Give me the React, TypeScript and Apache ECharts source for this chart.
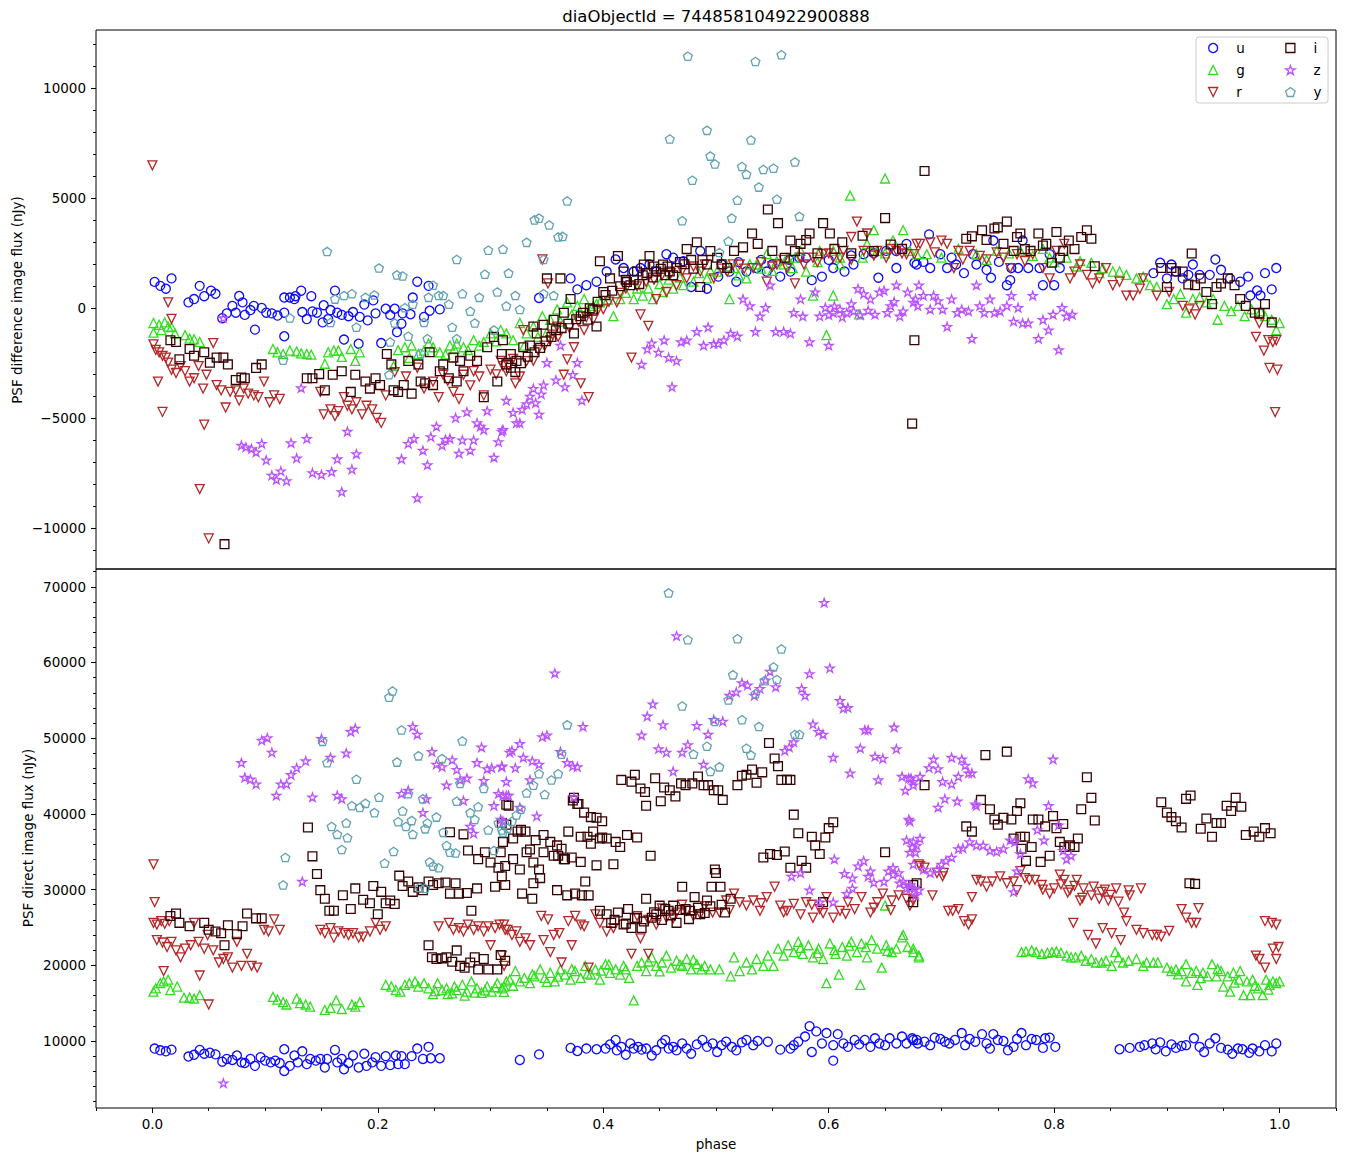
import React, { useEffect, useRef } from "react";
import * as echarts from "echarts";

// ---------- tick values ----------
const xMajor = [0, 0.2, 0.4, 0.6, 0.8, 1.0];
const xMinor = [-0.05, 0.05, 0.1, 0.15, 0.25, 0.3, 0.35, 0.45, 0.5, 0.55, 0.65, 0.7, 0.75, 0.85, 0.9, 0.95, 1.05];
const yDiffMajor = [-10000, -5000, 0, 5000, 10000];
const yDiffMinor = [-11000, -9000, -8000, -7000, -6000, -4000, -3000, -2000, -1000, 1000, 2000, 3000, 4000, 6000, 7000, 8000, 9000, 11000, 12000];
const yDirMajor = [10000, 20000, 30000, 40000, 50000, 60000, 70000];
const yDirMinor = [2000, 4000, 6000, 8000, 12000, 14000, 16000, 18000, 22000, 24000, 26000, 28000, 32000, 34000, 36000, 38000, 42000, 44000, 46000, 48000, 52000, 54000, 56000, 58000, 62000, 64000, 66000, 68000, 72000];

const bands = ["u", "g", "r", "i", "z", "y"];
const bandColors = ["#0a0aff", "#31DE1F", "#B52626", "#370201", "#BA52FF", "#61A2B3"];

// ---------- PSF difference image flux: [phase, flux, phase, flux, ...] ----------
const uDiff = [
  0.002,1200, 0.007,1020, 0.012,890, 0.017,1360, 0.032,270, 0.037,420, 0.042,1020, 0.046,550, 0.052,800, 0.056,660,
  0.062,-450, 0.066,-230, 0.071,110, 0.074,-200, 0.077,560, 0.080,270, 0.082,-300, 0.087,-80, 0.091,-970, 0.090,110,
  0.097,20, 0.101,-200, 0.106,-230, 0.111,-330, 0.117,490, 0.117,-200, 0.117,-1270, 0.122,490, 0.126,420, 0.127,550,
  0.132,800, 0.133,-170, 0.137,-490, 0.141,550, 0.142,-140, 0.146,-200, 0.151,-640, 0.152,140, 0.156,-490, 0.158,-80,
  0.162,800, 0.164,-200, 0.168,-300, 0.170,-1420, 0.174,-360, 0.178,-170, 0.183,-1610, 0.184,-390, 0.188,170, 0.191,-550,
  0.196,360, 0.198,-230, 0.203,-1580, 0.207,-20, 0.211,-300, 0.215,-20, 0.217,-1080, 0.221,-700, 0.222,-230, 0.229,-270,
  0.231,490, 0.235,1210, 0.241,-390, 0.245,1020, 0.246,-110, 0.255,-50,
  0.343,470, 0.371,1360, 0.377,860, 0.385,1050, 0.394,1210, 0.403,1670, 0.411,2220, 0.418,1830, 0.427,1670, 0.433,1830,
  0.441,1990, 0.447,1670, 0.456,2460, 0.462,2300, 0.471,2140, 0.478,970, 0.486,2610, 0.492,890, 0.502,1440, 0.512,1670,
  0.518,1210, 0.527,1670, 0.536,1830, 0.545,1670, 0.557,1440, 0.566,1670, 0.574,2300, 0.585,1280, 0.594,1440, 0.604,1830,
  0.614,1670, 0.622,1990, 0.631,2460, 0.644,1390, 0.651,2610, 0.660,1830, 0.669,2930, 0.676,2070,
  0.505,2000, 0.520,2100, 0.540,2200, 0.550,2000, 0.565,2200, 0.580,2300, 0.600,2200, 0.620,2400, 0.640,2500, 0.660,2600,
  0.678,1990, 0.684,2110, 0.689,3360, 0.690,1830, 0.699,2460, 0.705,1830, 0.709,2300, 0.713,1990, 0.720,1600, 0.728,2460,
  0.731,1990, 0.740,1750, 0.744,1390, 0.746,3080, 0.751,2110, 0.758,1050, 0.761,1280, 0.762,1830, 0.768,1830, 0.772,3080,
  0.777,1830, 0.787,1830, 0.790,1050, 0.796,2460, 0.800,1050, 0.805,1830, 0.888,1600, 0.894,2070, 0.900,1360, 0.904,1990,
  0.908,1670, 0.914,1360, 0.919,1520, 0.923,1990, 0.929,1520, 0.938,1520, 0.943,2220, 0.948,1750, 0.956,1360, 0.965,1210,
  0.972,1440, 0.974,580, 0.980,810, 0.983,580, 0.987,1600, 0.993,860, 0.997,1830,
];
const gDiff = [
  0.001,-670, 0.001,-1110, 0.006,-750, 0.008,-990, 0.011,-640, 0.014,-830, 0.017,-860, 0.020,-1140, 0.029,-1220, 0.033,-1380,
  0.037,-1410, 0.042,-1530, 0.107,-1850, 0.111,-2000, 0.116,-2080, 0.122,-1920, 0.128,-1960, 0.132,-2050, 0.137,-2080, 0.141,-2110,
  0.153,-2520, 0.156,-2000, 0.161,-1920, 0.165,-1920, 0.168,-2210, 0.176,-1850, 0.180,-2390, 0.184,-2000, 0.214,-2630, 0.224,-1770,
  0.230,-1690, 0.236,-2080, 0.241,-1920, 0.249,-1770, 0.255,-2000, 0.264,-1690, 0.270,-1610, 0.276,-1770, 0.285,-1450, 0.294,-1530,
  0.300,-1140, 0.309,-990, 0.314,-1140, 0.218,-1900, 0.228,-2250, 0.245,-1600, 0.260,-2100, 0.268,-1850, 0.280,-1900, 0.290,-1700, 0.305,-1500,
  0.320,-1450, 0.326,-670, 0.332,-1140, 0.338,-830, 0.346,-360, 0.353,-520, 0.359,-50, 0.368,270, 0.377,110, 0.383,420,
  0.391,110, 0.397,270, 0.409,-360, 0.415,420, 0.427,420, 0.435,580, 0.444,420, 0.453,740, 0.462,890, 0.471,1050,
  0.480,1210, 0.492,1360, 0.501,1670, 0.512,420, 0.516,1830, 0.527,1360, 0.536,1990, 0.545,2460, 0.554,2140, 0.563,2300,
  0.568,1830, 0.575,2610, 0.580,1670, 0.586,580, 0.592,2610, 0.598,-1220, 0.604,580, 0.604,2610, 0.610,2300, 0.619,5120,
  0.627,-280, 0.634,2930, 0.640,3550, 0.643,2610, 0.650,5900, 0.657,3080, 0.666,3550, 0.672,2610, 0.678,2460,
  0.330,-1700, 0.342,-1300, 0.350,-1100, 0.362,-600, 0.372,-300, 0.386,-100, 0.394,200, 0.404,400, 0.420,700, 0.430,900,
  0.440,900, 0.450,1100, 0.458,1300, 0.468,1400, 0.485,1600, 0.495,1700, 0.510,1900, 0.520,1500, 0.530,2000, 0.540,1800,
  0.550,1700, 0.560,2000, 0.570,2300, 0.590,2100, 0.610,2000, 0.630,2300, 0.650,2500,
  0.687,2460, 0.700,2300, 0.715,2700, 0.731,2460, 0.740,2200, 0.749,2610, 0.760,2500, 0.770,2610, 0.781,2380, 0.790,2700,
  0.796,2300, 0.800,2100, 0.811,2300, 0.820,1900, 0.823,2140, 0.833,2070, 0.840,1600, 0.843,1830, 0.852,1670, 0.858,1670,
  0.864,1520, 0.873,1360, 0.879,1440, 0.885,1050, 0.891,970, 0.900,190, 0.906,420, 0.912,660, 0.917,-200, 0.923,420,
  0.929,500, 0.935,270, 0.941,420, 0.945,-520, 0.951,110, 0.957,-130, 0.963,110, 0.969,-360, 0.975,-50, 0.983,-130,
  0.987,-360, 0.993,-520, 0.997,-990, 1.000,-670,
];
const rDiff = [
  0.000,6500, 0.014,270, 0.017,-480, 0.001,-1640, 0.003,-1890, 0.006,-2000, 0.009,-2160, 0.012,-2240, 0.014,-2470, 0.017,-2790,
  0.021,-2940, 0.025,-2630, 0.029,-2860, 0.033,-3330, 0.037,-3180, 0.041,-2630, 0.045,-3650, 0.048,-3020, 0.054,-1580, 0.057,-3490,
  0.061,-3730, 0.065,-4510, 0.069,-3800, 0.074,-3730, 0.077,-4190, 0.081,-3650, 0.085,-3880, 0.090,-3960, 0.094,-4040, 0.099,-3330,
  0.104,-4270, 0.108,-3960, 0.113,-4120, 0.005,-3330, 0.009,-4710, 0.046,-5290, 0.042,-8220, 0.050,-10460,
  0.149,-3800, 0.152,-4820, 0.158,-4590, 0.162,-4900, 0.165,-4670, 0.170,-4040, 0.173,-4430, 0.177,-4590, 0.181,-4270, 0.186,-4820,
  0.190,-4430, 0.195,-4590, 0.199,-4980, 0.203,-5210, 0.207,-3960, 0.254,-4040, 0.267,-3800, 0.272,-4120, 0.294,-3960, 0.241,-3650,
  0.249,-3330, 0.258,-3020, 0.276,-3020, 0.285,-2860, 0.300,-2790, 0.311,-2630, 0.215,-2900, 0.225,-3100, 0.235,-2700, 0.262,-3300,
  0.282,-3500, 0.290,-3100, 0.305,-3000,
  0.309,-2390, 0.314,-2860, 0.322,-3410, 0.326,-3100, 0.329,-990, 0.338,-2390, 0.346,2220, 0.351,1130, 0.353,-1450, 0.359,-830,
  0.365,-3020, 0.368,-2320, 0.374,-1770, 0.380,-3410, 0.387,-4040, 0.383,-990, 0.391,-520, 0.400,-50, 0.412,270, 0.425,-2240,
  0.433,-280, 0.440,-800, 0.447,420, 0.456,740, 0.465,1050, 0.474,1360, 0.486,1670, 0.498,1360, 0.510,1670, 0.521,1990,
  0.533,1830, 0.545,1210, 0.554,1990, 0.563,1830, 0.570,1130, 0.578,1990, 0.586,2300, 0.595,2460, 0.604,2300, 0.613,2610,
  0.620,3240, 0.625,3940, 0.631,2610, 0.634,3400, 0.643,2610, 0.651,2300, 0.660,2610, 0.669,2460, 0.678,2930,
  0.316,-2600, 0.320,-2300, 0.332,-2400, 0.342,-1900, 0.348,-1700, 0.355,-1200, 0.360,-1300, 0.370,-900, 0.378,-600, 0.385,-400,
  0.395,-100, 0.405,300, 0.415,700, 0.420,900, 0.430,1000, 0.438,1200, 0.445,1300, 0.452,1500, 0.460,1600, 0.470,1700,
  0.480,1900, 0.490,2000, 0.505,1800, 0.515,2000, 0.525,1800, 0.540,2100, 0.550,1900, 0.560,2200, 0.575,2300, 0.590,2100,
  0.600,2500, 0.610,2300, 0.620,2200, 0.640,2400, 0.655,2700, 0.665,2500,
  0.676,2460, 0.681,2930, 0.690,3000, 0.694,2540, 0.700,3080, 0.705,2930, 0.711,1830, 0.715,2610, 0.719,2220, 0.725,2610,
  0.734,2380, 0.740,2220, 0.749,2540, 0.755,2300, 0.761,1830, 0.767,2460, 0.774,2140, 0.781,2460, 0.790,1830, 0.796,1360,
  0.802,2610, 0.809,2930, 0.814,1360, 0.818,1670, 0.823,1990, 0.829,1520, 0.834,1130, 0.840,1360, 0.846,1830, 0.852,1050,
  0.858,1210, 0.864,580, 0.870,580, 0.876,890, 0.879,1360, 0.891,580, 0.902,740, 0.914,110, 0.920,-50, 0.925,-280,
  0.929,110, 0.979,-1300, 0.982,-670, 0.986,-1920, 0.990,-1450, 0.994,-1530, 0.997,-1450, 0.991,-2710, 0.998,-2790, 0.996,-4720,
];
const iDiff = [
  0.016,-1450, 0.021,-1530, 0.024,-2320, 0.033,-1850, 0.037,-2160, 0.046,-2000, 0.051,-2470, 0.057,-2240, 0.063,-2240, 0.067,-2550,
  0.074,-3260, 0.079,-3150, 0.082,-3180, 0.092,-2710, 0.097,-2550, 0.064,-10720,
  0.137,-3180, 0.142,-3180, 0.148,-2990, 0.153,-3730, 0.160,-3020, 0.168,-2860, 0.176,-3800, 0.180,-3020, 0.189,-3330, 0.193,-3650,
  0.198,-3180, 0.202,-3490, 0.208,-2080, 0.212,-2550, 0.214,-3730, 0.218,-3800, 0.223,-3490, 0.227,-2390, 0.230,-3880, 0.236,-2550,
  0.238,-3330, 0.242,-3410, 0.246,-2000, 0.249,-3490, 0.255,-2860, 0.258,-2550, 0.263,-3180, 0.267,-2240, 0.270,-3330, 0.273,-2390,
  0.276,-2860, 0.282,-2160, 0.288,-2390, 0.294,-4040, 0.297,-1770, 0.303,-1300, 0.306,-3330, 0.310,-2080, 0.311,-1450, 0.314,-2550,
  0.318,-2080, 0.323,-2390, 0.329,-1770, 0.335,-1690, 0.338,-830, 0.341,-1140, 0.347,-750, 0.350,1360, 0.356,-520, 0.362,1360,
  0.365,-200, 0.371,420, 0.374,-1140, 0.380,-360, 0.386,-520, 0.391,-50, 0.394,-830, 0.397,2140, 0.400,740, 0.406,1360,
  0.413,2380, 0.418,1670, 0.424,1050, 0.430,1670, 0.436,1990, 0.441,2380, 0.447,1670, 0.453,1990, 0.459,1670, 0.465,1830,
  0.474,2690, 0.483,3000, 0.486,970, 0.492,1990, 0.501,2300, 0.510,1830, 0.516,2610, 0.524,2770, 0.532,3400, 0.537,2930,
  0.546,4490, 0.550,2610, 0.555,3870, 0.561,2300, 0.566,3080, 0.575,2930, 0.583,3400, 0.595,3870, 0.601,3400, 0.650,4100,
  0.676,-1450, 0.674,-5240, 0.420,1300, 0.435,1500, 0.445,1900, 0.455,1500, 0.468,2100, 0.478,2200, 0.495,2600,
  0.570,2600, 0.580,3100, 0.590,2500, 0.605,2700, 0.612,3000, 0.620,2500, 0.630,3300, 0.640,2600, 0.655,2900, 0.665,2700,
  0.318,-2700, 0.322,-2900, 0.327,-2500, 0.333,-2200, 0.339,-2000, 0.344,-1800, 0.349,-1500, 0.354,-1300, 0.358,-1000, 0.363,-900,
  0.369,-700, 0.376,-500, 0.382,-200, 0.388,0, 0.395,300, 0.402,600, 0.408,800, 0.415,1000, 0.421,1200, 0.427,1300,
  0.432,1100, 0.439,1600, 0.444,1400, 0.451,1800, 0.457,1900, 0.462,1500, 0.472,2000, 0.480,1800, 0.488,2200, 0.505,2000,
  0.685,6240, 0.722,3160, 0.727,3270, 0.736,3550, 0.740,3110, 0.747,3630, 0.750,3680, 0.758,3940, 0.755,2930, 0.764,2610,
  0.767,3240, 0.770,3400, 0.774,2690, 0.779,2610, 0.786,3400, 0.790,2850, 0.793,2930, 0.798,2070, 0.802,3470, 0.805,2300,
  0.808,2610, 0.813,3080, 0.818,2690, 0.824,3240, 0.829,3550, 0.833,3160, 0.836,1910, 0.922,2490, 0.895,1830, 0.900,970,
  0.904,1830, 0.908,1670, 0.914,1670, 0.919,1080, 0.925,1050, 0.930,1360, 0.935,740, 0.940,190, 0.944,970, 0.948,1130,
  0.954,1360, 0.960,1050, 0.965,420, 0.970,110, 0.978,-200, 0.982,-230, 0.987,190, 0.993,-640,
];
const zDiff = [
  0.063,-440, 0.079,-6230, 0.083,-6310, 0.088,-6390, 0.092,-6540, 0.097,-6150, 0.101,-6900, 0.106,-7590, 0.110,-7790, 0.114,-7400,
  0.119,-7840, 0.123,-6120, 0.128,-6810, 0.132,-3620, 0.137,-5920, 0.142,-7480, 0.150,-7560, 0.159,-7430, 0.164,-6850, 0.168,-8340,
  0.173,-5600, 0.177,-7320, 0.181,-6620,
  0.221,-6850, 0.227,-6150, 0.232,-5920, 0.235,-8620, 0.240,-6460, 0.244,-7120, 0.247,-5840, 0.252,-5370, 0.257,-6230, 0.260,-5960,
  0.264,-5920, 0.269,-4980, 0.272,-6590, 0.275,-5990, 0.279,-4710, 0.282,-6460, 0.285,-5990, 0.288,-5210, 0.291,-5370, 0.294,-5520,
  0.297,-4660, 0.303,-6780, 0.307,-6070, 0.310,-5600, 0.314,-4190,
  0.311,-5520, 0.320,-4740, 0.323,-5210, 0.326,-5210, 0.332,-4350, 0.338,-3650, 0.343,-4820, 0.347,-3490, 0.350,-2470, 0.358,-3260,
  0.362,-1690, 0.366,-3570, 0.373,-3020, 0.377,-2470, 0.381,-4190, 0.328,-4600, 0.335,-4000, 0.340,-4300, 0.345,-3900,
  0.434,-2550, 0.439,-1850, 0.443,-1580, 0.449,-2000, 0.454,-1450, 0.458,-2240, 0.461,-3570, 0.465,-2390, 0.469,-1530, 0.474,-1450,
  0.483,-1060, 0.489,-1690, 0.493,-860, 0.498,-1610, 0.502,-1610, 0.507,-1450, 0.513,-1140, 0.519,-1270, 0.524,420, 0.530,110,
  0.535,-1060, 0.539,-360, 0.544,30, 0.548,1050, 0.553,-1060, 0.560,-1060, 0.566,-1140, 0.569,-200, 0.575,420, 0.577,-360,
  0.583,-1530, 0.588,740, 0.592,-360, 0.597,30, 0.600,-1690, 0.604,-200, 0.610,-50, 0.616,-200, 0.622,-130, 0.626,890,
  0.631,660, 0.637,420, 0.641,-280, 0.645,740, 0.649,810, 0.655,110, 0.660,1050, 0.663,-360, 0.666,-130, 0.670,740,
  0.675,270, 0.680,1050, 0.600,-300, 0.605,100, 0.612,-400, 0.620,200, 0.628,-300, 0.635,-100, 0.652,-200, 0.658,300,
  0.677,420, 0.679,110, 0.684,580, 0.690,-50, 0.693,580, 0.697,340, 0.701,-50, 0.705,-830, 0.709,420, 0.714,-200,
  0.718,-50, 0.724,-130, 0.727,-1380, 0.731,1050, 0.734,110, 0.738,-200, 0.743,420, 0.747,-200, 0.752,-130, 0.758,110,
  0.762,580, 0.764,-590, 0.768,30, 0.772,-670, 0.777,-670, 0.781,580, 0.786,-1380, 0.790,-520, 0.795,-990, 0.799,-280,
  0.804,-1890, 0.807,30, 0.811,-360, 0.816,-280,
];
const yDiff = [
  0.155,2580, 0.116,-2360, 0.122,-440, 0.158,-640, 0.162,420, 0.170,580, 0.177,660, 0.181,-860, 0.189,500, 0.197,610,
  0.201,1830, 0.210,-3020, 0.211,-1530, 0.215,-670, 0.217,1520, 0.222,1470, 0.224,30, 0.227,-1270, 0.231,190, 0.238,-2050,
  0.241,-640, 0.244,-1380, 0.245,500, 0.249,1050, 0.254,580, 0.258,580, 0.263,190, 0.266,-860, 0.270,2220, 0.270,-1380,
  0.275,660, 0.282,-130, 0.286,-670, 0.290,500, 0.295,1550, 0.298,2640, 0.303,-990, 0.306,740, 0.311,2690, 0.314,110,
  0.316,1600, 0.322,580, 0.326,-50, 0.332,3000, 0.339,4020, 0.343,4100, 0.347,660, 0.347,2220, 0.352,3790, 0.356,580,
  0.360,3240, 0.364,3270, 0.368,4880, 0.459,7700, 0.475,11460, 0.470,3980, 0.479,5820, 0.492,8090, 0.495,6920, 0.499,6560,
  0.503,2540, 0.511,3050, 0.514,4100, 0.519,4910, 0.523,6450, 0.527,6090, 0.531,7650, 0.535,11220, 0.538,5510, 0.542,6310,
  0.551,6370, 0.554,4960, 0.558,11530, 0.570,6650, 0.574,4180,
];

// ---------- PSF direct image flux ----------
const uDirect = [
  0.002,9000, 0.007,8770, 0.012,8640, 0.017,8860, 0.032,7950, 0.037,8180, 0.042,8820, 0.046,8320, 0.051,8450, 0.056,8230,
  0.062,7270, 0.066,7630, 0.071,7500, 0.075,8090, 0.079,7180, 0.082,7090, 0.087,7630, 0.091,6720, 0.096,7860, 0.100,7410,
  0.105,7180, 0.109,7410, 0.113,7090, 0.117,8910, 0.117,6040, 0.122,6720, 0.126,8090, 0.129,7180, 0.133,8640, 0.137,6950,
  0.140,7630, 0.145,7410, 0.149,7630, 0.153,6500, 0.155,7630, 0.162,8820, 0.164,7180, 0.168,7630, 0.170,6270, 0.174,7090,
  0.178,8090, 0.183,6500, 0.188,8320, 0.190,6720, 0.195,7180, 0.198,7860, 0.203,6720, 0.207,8000, 0.211,6810, 0.216,8090,
  0.218,6950, 0.221,8000, 0.224,6950, 0.230,8000, 0.235,9000, 0.240,7630, 0.245,9230, 0.247,7720, 0.255,7720,
  0.326,7500, 0.343,8230, 0.371,9090, 0.377,8680, 0.385,9000, 0.394,8910, 0.402,9000, 0.406,9550, 0.411,10140, 0.412,8770,
  0.416,9230, 0.420,8180, 0.424,9680, 0.427,9000, 0.431,9230, 0.434,8860, 0.438,9000, 0.443,8090, 0.447,8770, 0.452,9680,
  0.455,10140, 0.458,9000, 0.462,9230, 0.465,8770, 0.470,9680, 0.474,9000, 0.478,8320, 0.483,9550, 0.488,10140, 0.492,9230,
  0.497,9680, 0.501,8550, 0.505,9450, 0.509,9910, 0.514,9230, 0.518,8770, 0.523,9820, 0.527,10140, 0.533,9450, 0.537,10000,
  0.546,9910, 0.557,8860, 0.566,9000, 0.569,9450, 0.573,9910, 0.579,10590, 0.583,11960, 0.585,8550, 0.589,11270, 0.594,9680,
  0.598,11050, 0.604,7410, 0.608,10910, 0.604,9450, 0.613,9680, 0.617,9230, 0.623,10140, 0.627,9550, 0.632,10140, 0.637,9230,
  0.641,10360, 0.645,9680, 0.650,9450, 0.654,10360, 0.660,9680, 0.665,10590, 0.669,9680, 0.674,10360, 0.678,10140,
  0.675,10140, 0.679,9680, 0.685,9910, 0.690,9450, 0.694,10450, 0.699,10270, 0.703,9910, 0.707,9680, 0.712,10140, 0.718,11050,
  0.721,9450, 0.725,10270, 0.730,9910, 0.736,10910, 0.740,9680, 0.743,9000, 0.746,10910, 0.750,10140, 0.755,10000, 0.759,8770,
  0.764,9230, 0.767,10270, 0.771,11050, 0.775,9450, 0.780,10270, 0.784,10140, 0.790,9090, 0.792,10360, 0.796,10450, 0.801,9230,
  0.858,8910, 0.867,9090, 0.876,9230, 0.880,9450, 0.887,9680, 0.890,8910, 0.894,9820, 0.899,8640, 0.904,9550, 0.908,9090,
  0.913,9360, 0.917,9450, 0.924,10360, 0.929,9230, 0.933,8550, 0.938,9680, 0.943,10360, 0.948,9090, 0.954,8860, 0.958,8320,
  0.963,9000, 0.967,8910, 0.973,8450, 0.976,9000, 0.982,8640, 0.987,9450, 0.993,8640, 0.997,9680,
];
const gDirect = [
  0.001,16510, 0.003,16960, 0.007,17640, 0.010,17870, 0.014,18100, 0.016,16730, 0.022,17190, 0.028,15730, 0.033,15730, 0.037,15600,
  0.042,16050, 0.107,15820, 0.111,15460, 0.116,15140, 0.119,14820, 0.128,15600, 0.131,15010, 0.136,14820, 0.140,14550, 0.153,14100,
  0.158,14370, 0.163,15370, 0.168,14230, 0.177,14820, 0.180,14550, 0.184,15140,
  0.207,17420, 0.212,17190, 0.216,16730, 0.220,16510, 0.224,17420, 0.228,17640, 0.233,17870, 0.236,17190, 0.241,17640, 0.245,16960,
  0.249,16190, 0.253,17640, 0.257,16730, 0.261,16960, 0.266,16280, 0.270,16730, 0.275,17420, 0.279,16510, 0.283,17870, 0.288,16960,
  0.292,16370, 0.297,17190, 0.301,16510, 0.306,17640, 0.310,16960, 0.314,17870, 0.251,16600, 0.262,16200, 0.268,17200, 0.277,16000,
  0.286,16400, 0.295,16700, 0.304,17100, 0.312,16500,
  0.312,17190, 0.317,18100, 0.322,19240, 0.326,17870, 0.330,18330, 0.335,17640, 0.339,18550, 0.344,19460, 0.348,18330, 0.353,19010,
  0.357,17870, 0.362,19460, 0.366,18780, 0.371,18100, 0.375,19240, 0.380,18330, 0.384,19920, 0.389,18780, 0.393,19460, 0.397,18100,
  0.402,20150, 0.406,19010, 0.411,19460, 0.415,18780, 0.420,19460, 0.423,18330, 0.427,15370, 0.430,19920, 0.434,20370, 0.438,19240,
  0.443,21060, 0.447,19920, 0.452,20370, 0.456,21280, 0.460,19690, 0.465,20600, 0.470,19920, 0.474,20830, 0.478,19460, 0.483,20150,
  0.487,19460, 0.495,19460, 0.503,19460, 0.513,18550, 0.516,21060, 0.521,19240, 0.527,20370, 0.532,19460, 0.536,20830, 0.542,19920,
  0.546,21280, 0.551,19920, 0.555,22190, 0.560,21280, 0.564,22650, 0.569,21740, 0.573,23100, 0.577,21510, 0.582,22650, 0.586,21060,
  0.591,22190, 0.595,20830, 0.598,17640, 0.601,22880, 0.606,21510, 0.609,18780, 0.612,22420, 0.616,21280, 0.620,23100, 0.625,21740,
  0.628,17420, 0.629,22880, 0.634,21060, 0.638,23330, 0.643,22190, 0.647,19690, 0.651,22650, 0.656,21740, 0.660,22190, 0.666,24010,
  0.670,22420, 0.675,21740, 0.680,21280, 0.650,27900, 0.665,23700,
  0.320,17300, 0.337,18800, 0.350,17800, 0.360,18500, 0.372,19500, 0.386,18900, 0.398,19300, 0.405,20100, 0.418,19900, 0.440,20500,
  0.450,19200, 0.468,20100, 0.480,20700, 0.490,19900, 0.575,22300, 0.590,21600, 0.605,22000, 0.618,22600, 0.633,22400, 0.652,21900,
  0.675,22190, 0.680,21060, 0.771,21740, 0.775,21830, 0.780,21970, 0.784,21740, 0.789,21510, 0.794,21650, 0.798,21740, 0.802,21830,
  0.806,21650, 0.811,21280, 0.815,21060, 0.819,21060, 0.824,21280, 0.828,20600, 0.833,20830, 0.837,20370, 0.842,20370, 0.846,20600,
  0.851,19920, 0.854,21740, 0.857,21060, 0.861,20370, 0.866,20600, 0.873,20830, 0.879,19920, 0.882,20370, 0.888,20370, 0.892,20370,
  0.900,19690, 0.904,19240, 0.908,19460, 0.913,19240, 0.917,20150, 0.917,17870, 0.922,19010, 0.926,19240, 0.927,17420, 0.932,19010,
  0.936,18550, 0.940,20150, 0.944,18550, 0.948,19240, 0.950,17190, 0.954,18550, 0.956,16510, 0.959,19010, 0.964,18100, 0.965,19240,
  0.968,16050, 0.971,17870, 0.974,16050, 0.976,18100, 0.981,16960, 0.985,16050, 0.988,18100, 0.991,17420, 0.994,17870, 0.997,17640,
  1.000,17870, 0.910,18800, 0.930,18300, 0.945,19500, 0.960,17700, 0.978,17300, 0.990,16800,
];
const rDirect = [
  0.001,33340, 0.002,28340, 0.001,25610, 0.004,25380, 0.008,25830, 0.011,25470, 0.015,25830, 0.004,23330, 0.009,23010, 0.013,22420,
  0.017,23100, 0.021,21970, 0.025,21060, 0.029,22190, 0.034,22650, 0.037,25610, 0.041,23100, 0.046,22190, 0.049,24010, 0.054,21970,
  0.059,20370, 0.063,20830, 0.067,21060, 0.071,19690, 0.075,23100, 0.079,19920, 0.084,21510, 0.088,19920, 0.093,19690, 0.099,24690,
  0.103,24470, 0.108,26060, 0.113,24690, 0.010,19240, 0.042,18650, 0.050,14820,
  0.149,24690, 0.153,24240, 0.158,24920, 0.161,23650, 0.165,24470, 0.170,24240, 0.174,24010, 0.178,24240, 0.183,23650, 0.187,23790,
  0.193,24470, 0.198,25610, 0.202,24690, 0.207,25150,
  0.254,25150, 0.263,25610, 0.267,24690, 0.272,24920, 0.276,24470, 0.280,25380, 0.285,24690, 0.289,25150, 0.294,24470, 0.298,25150,
  0.300,22650, 0.304,24920, 0.308,25380, 0.313,24690,
  0.312,25380, 0.315,24690, 0.319,24010, 0.323,24470, 0.326,23100, 0.331,23560, 0.335,22650, 0.312,19920, 0.310,21280, 0.345,26520,
  0.351,26060, 0.347,23330, 0.353,21740, 0.356,24010, 0.361,24240, 0.363,20370, 0.369,25830, 0.372,22650, 0.375,26520, 0.380,25380,
  0.383,25150, 0.387,19690, 0.393,26740, 0.397,25610, 0.403,24470, 0.409,24920, 0.425,21510, 0.433,23560, 0.440,21510, 0.447,25380,
  0.456,26290, 0.465,26970, 0.474,27200, 0.486,26740, 0.497,26970, 0.509,28560, 0.516,29470, 0.521,28330, 0.527,27880, 0.533,28560,
  0.539,27200, 0.545,29010, 0.552,30380, 0.557,27880, 0.563,27200, 0.569,28110, 0.575,26740, 0.580,28330, 0.586,26290, 0.592,27430,
  0.598,29010, 0.604,26290, 0.610,27200, 0.617,28330, 0.623,27430, 0.629,29010, 0.637,26970, 0.643,28330, 0.648,29470, 0.656,28560,
  0.662,29240, 0.669,28790, 0.675,28560, 0.680,33340,
  0.430,26500, 0.440,26000, 0.452,27500, 0.462,26200, 0.470,28000, 0.480,26500, 0.490,27800, 0.503,27000, 0.512,27300, 0.540,28200,
  0.560,27000, 0.585,28000, 0.595,26900, 0.615,26800, 0.640,27600, 0.655,27300,
  0.672,27880, 0.681,33110, 0.685,32890, 0.692,29240, 0.702,32200, 0.696,32200, 0.701,31750, 0.706,27200, 0.710,27200, 0.715,27430,
  0.720,25830, 0.724,25380, 0.727,26060, 0.727,29010, 0.731,31290, 0.735,31070, 0.740,30380, 0.745,31070, 0.752,31750, 0.758,30840,
  0.764,31070, 0.767,29930, 0.770,32430, 0.774,31520, 0.778,31290, 0.783,31290, 0.789,30610, 0.796,29470, 0.800,30150, 0.805,31980,
  0.809,31290, 0.814,29930, 0.817,25610, 0.820,31290, 0.823,28560, 0.826,30150, 0.830,24010, 0.833,29240, 0.837,22880, 0.842,29700,
  0.843,24920, 0.848,28560, 0.851,24240, 0.855,30150, 0.859,23330, 0.862,26970, 0.864,25830, 0.867,29240, 0.873,24690, 0.877,30150,
  0.879,24240, 0.887,24010, 0.891,24010, 0.895,23790, 0.902,24560, 0.913,27430, 0.917,26290, 0.922,25610, 0.926,25610, 0.928,27560,
  0.979,21280, 0.982,20830, 0.987,25830, 0.987,19690, 0.993,25610, 0.994,22190, 0.997,25380, 0.997,20830, 0.999,22420,
  0.790,30000, 0.806,30700, 0.812,29600, 0.818,30500, 0.825,28900, 0.835,30400, 0.840,28800, 0.845,30000, 0.850,29300, 0.857,28400,
  0.866,29900,
];
const iDirect = [
  0.016,26520, 0.021,26840, 0.024,25610, 0.033,25150, 0.046,25610, 0.050,24690, 0.056,24470, 0.061,24240, 0.064,22650, 0.067,25290,
  0.075,24100, 0.080,25150, 0.084,26840, 0.092,26200, 0.097,26200,
  0.138,38210, 0.142,34390, 0.146,32070, 0.149,29930, 0.153,28790, 0.157,27200, 0.161,27200, 0.169,29250, 0.176,27430, 0.180,30160,
  0.187,28650, 0.193,28200, 0.196,30470, 0.200,26740, 0.203,29700, 0.207,28200, 0.211,28560, 0.215,28110, 0.219,31840, 0.222,30470,
  0.227,31070, 0.231,29700, 0.236,30290, 0.240,29930, 0.245,31070, 0.249,30610, 0.254,30840, 0.260,30930, 0.264,29470, 0.269,30840,
  0.272,29470, 0.279,29560, 0.283,27200, 0.288,30160, 0.264,37570, 0.276,37300, 0.280,35160, 0.289,34020, 0.295,34930, 0.300,33570,
  0.304,30380, 0.307,32890, 0.311,36300, 0.314,41210, 0.314,38580, 0.310,31750,
  0.245,22650, 0.248,21060, 0.252,20830, 0.257,20920, 0.261,21060, 0.266,20470, 0.270,21970, 0.273,19920, 0.277,19690, 0.282,20370,
  0.286,21060, 0.289,19460, 0.294,20830, 0.298,19460, 0.306,19460, 0.309,21370, 0.313,20600,
  0.310,38800, 0.316,41080, 0.309,34930, 0.313,33110, 0.320,36750, 0.324,37660, 0.331,37660, 0.335,35300, 0.340,36530, 0.347,37210,
  0.353,36300, 0.359,35840, 0.365,34020, 0.369,37660, 0.363,35390, 0.372,34250, 0.380,33660, 0.374,42120, 0.378,41300, 0.383,40170,
  0.389,39580, 0.394,39490, 0.399,39030, 0.389,36070, 0.394,33200, 0.399,36890, 0.403,36750, 0.409,33340, 0.411,36300, 0.415,35620,
  0.416,44490, 0.421,37210, 0.425,44260, 0.428,45170, 0.430,36890, 0.433,43350, 0.437,42900, 0.438,41080, 0.442,34480, 0.446,44710,
  0.454,43480, 0.451,41670, 0.459,43120, 0.464,42310, 0.469,44030, 0.473,43800, 0.479,44030, 0.484,44940, 0.489,43800, 0.493,43800,
  0.498,43120, 0.502,43120, 0.506,41850, 0.519,43800, 0.523,45030, 0.527,45170, 0.532,45850, 0.536,44120, 0.541,45490, 0.547,49360,
  0.552,47310, 0.555,46310, 0.558,44490, 0.563,44490, 0.566,44490,
  0.327,37890, 0.313,30610, 0.320,34020, 0.326,32660, 0.332,34930, 0.338,33570, 0.343,32660, 0.344,31520, 0.338,30840, 0.347,34930,
  0.356,34480, 0.360,34480, 0.366,34020, 0.373,41760, 0.377,41300, 0.380,36980, 0.386,36980, 0.391,37660, 0.397,36750, 0.328,29470,
  0.337,28790, 0.359,29930, 0.368,29240, 0.375,29470, 0.381,29240, 0.384,31070, 0.387,29240,
  0.397,27200, 0.403,26740, 0.407,25610, 0.413,26970, 0.418,25380, 0.422,27430, 0.425,24920, 0.430,26290, 0.434,24920, 0.438,28790,
  0.443,26290, 0.447,26740, 0.450,27880, 0.455,27430, 0.458,27200, 0.462,27880, 0.465,25610, 0.470,30380, 0.473,27430, 0.477,27200,
  0.481,29010, 0.486,26740, 0.492,28560, 0.496,30380, 0.499,32660, 0.500,32200, 0.504,30380, 0.508,26970, 0.513,28790,
  0.410,26000, 0.420,25500, 0.428,26200, 0.436,25800, 0.445,27000, 0.452,26000, 0.460,26600, 0.468,27300, 0.476,26100, 0.484,27600,
  0.490,26900, 0.495,27800, 0.505,28000,
  0.542,34250, 0.548,34710, 0.554,34570, 0.561,35030, 0.566,32890, 0.569,39900, 0.573,37440, 0.576,33800, 0.580,32890, 0.585,36980,
  0.588,35840, 0.592,34710, 0.597,36890, 0.600,38120, 0.604,38900, 0.650,34930, 0.675,30610, 0.595,28340,
  0.678,30840, 0.675,28340, 0.685,43800, 0.722,38350, 0.727,37660, 0.735,41850, 0.739,47770, 0.743,40620, 0.747,39260, 0.750,38580,
  0.755,39490, 0.758,48220, 0.762,39260, 0.767,40390, 0.770,41400, 0.764,36750, 0.770,36980, 0.774,36980, 0.771,35390, 0.775,33800,
  0.780,35620, 0.781,39260, 0.786,39260, 0.788,33660, 0.792,38350, 0.796,34480, 0.799,39710, 0.802,38120, 0.805,36300, 0.808,38670,
  0.809,35620, 0.814,35840, 0.818,35620, 0.821,36750, 0.824,40620, 0.829,44850, 0.833,42120, 0.836,39120,
  0.895,41530, 0.900,40170, 0.904,39580, 0.908,39030, 0.913,38210, 0.917,41990, 0.921,42440, 0.920,30840, 0.925,30750, 0.930,38030,
  0.935,39400, 0.940,36980, 0.944,38800, 0.948,38800, 0.953,41080, 0.957,40390, 0.961,42120, 0.966,40940, 0.970,37210, 0.977,37660,
  0.982,36980, 0.987,38120, 0.992,37440,
];
const zDirect = [
  0.063,4450, 0.079,46760, 0.082,44810, 0.087,44580, 0.092,43940, 0.097,49720, 0.102,50040, 0.106,48130, 0.110,42440, 0.114,43940,
  0.119,43940, 0.123,45170, 0.128,46080, 0.133,31070, 0.136,46990, 0.142,42210, 0.150,49950, 0.158,47450, 0.164,42440, 0.168,41990,
  0.172,48040, 0.176,50860, 0.180,51310, 0.221,42670, 0.227,43120, 0.231,51540, 0.235,50500, 0.240,40170, 0.243,41990, 0.248,48220,
  0.252,46540, 0.257,46220, 0.261,43800, 0.266,47130, 0.270,45850, 0.273,44490, 0.276,41760, 0.279,44710, 0.282,38350, 0.285,37440,
  0.288,46760, 0.292,48810, 0.294,44400, 0.297,45940, 0.301,46080, 0.303,41080, 0.307,42670, 0.310,46220, 0.314,42440, 0.311,39030,
  0.317,48130,
  0.310,46310, 0.314,44260, 0.319,48360, 0.322,46080, 0.326,49270, 0.329,47450, 0.337,46990, 0.343,46540, 0.346,50180, 0.350,50400,
  0.335,44490, 0.316,42440, 0.311,42440, 0.326,40850, 0.341,39710, 0.309,39260, 0.357,58590, 0.362,48220, 0.368,46760, 0.373,46310,
  0.377,46220, 0.374,42210, 0.382,51540, 0.434,50400, 0.439,52900, 0.444,54500, 0.449,48590, 0.453,51770, 0.456,48130, 0.462,45620,
  0.465,63510, 0.470,48130, 0.475,49130, 0.483,51670, 0.489,46540, 0.493,50500, 0.498,52450, 0.506,52220, 0.512,55640, 0.518,56090,
  0.523,57320, 0.528,57000, 0.534,55640, 0.539,56550, 0.544,57680, 0.548,58820, 0.553,56770, 0.561,48360, 0.565,48810, 0.569,49500,
  0.567,31750, 0.575,32200, 0.583,58500, 0.576,56550, 0.579,55640, 0.586,51860, 0.591,50860, 0.595,50500, 0.596,67920, 0.601,59270,
  0.604,47450, 0.610,54950, 0.613,53950, 0.617,54040, 0.619,45400, 0.628,48680, 0.632,51090, 0.635,51090, 0.644,44490, 0.641,47590,
  0.648,47310, 0.658,51450, 0.660,48590, 0.665,44940, 0.671,44710, 0.668,43120, 0.675,44260, 0.671,39260, 0.669,36530, 0.674,35620,
  0.677,34930,
  0.605,34020, 0.614,32110, 0.621,31520, 0.626,33110, 0.631,33800, 0.635,31750, 0.640,30930, 0.649,31070, 0.653,32430, 0.657,32890,
  0.662,32200, 0.666,31070, 0.672,30160, 0.604,28340, 0.592,28340, 0.583,29930, 0.680,29930, 0.677,29250, 0.616,29470, 0.621,30160,
  0.637,32430, 0.657,31980, 0.663,30840, 0.669,30160,
  0.673,44720, 0.675,43810, 0.681,44940, 0.689,46080, 0.693,47220, 0.697,45950, 0.701,44260, 0.697,40850, 0.703,41990, 0.709,47450,
  0.709,43940, 0.714,41670, 0.715,44940, 0.718,47220, 0.721,46400, 0.724,45400, 0.727,45400, 0.730,41300, 0.731,41080, 0.672,39030,
  0.675,36300, 0.678,35840, 0.681,36750, 0.672,34930, 0.675,33340, 0.672,30610, 0.676,30160, 0.684,32660, 0.690,32200, 0.696,32660,
  0.700,33340, 0.704,33800, 0.709,34250, 0.715,35390, 0.719,35480, 0.725,36300, 0.731,35840, 0.737,35840, 0.743,35160, 0.749,35030,
  0.755,35390, 0.761,36530, 0.765,36300, 0.770,34710, 0.767,32430, 0.764,29700, 0.777,44620, 0.781,44080, 0.785,37890, 0.791,36530,
  0.795,41080, 0.799,47220, 0.804,38530, 0.808,35160, 0.811,34020, 0.815,34480,
];
const yDirect = [
  0.116,30610, 0.118,34250, 0.155,46760, 0.151,49590, 0.159,38350, 0.164,37300, 0.168,35300, 0.172,38800, 0.173,36850, 0.177,41080,
  0.181,44580, 0.184,40850, 0.189,41400, 0.197,40170, 0.201,42210, 0.206,33480, 0.210,55410, 0.213,56230, 0.214,35030, 0.217,46850,
  0.218,38980, 0.221,51090, 0.222,40390, 0.225,38350, 0.227,42670, 0.230,39120, 0.231,37300, 0.236,47670, 0.240,41990, 0.242,38030,
  0.244,38800, 0.246,33660, 0.249,33110, 0.252,39580, 0.254,32890, 0.257,47310, 0.258,37570, 0.261,35840, 0.264,34930, 0.269,34840,
  0.270,41670, 0.273,44030, 0.275,49630, 0.282,40170, 0.286,39260, 0.289,40940, 0.294,43350, 0.298,37890, 0.303,35160, 0.307,38800,
  0.311,37570, 0.242,30160, 0.237,30290,
  0.310,37890, 0.315,38120, 0.319,39030, 0.323,39850, 0.327,40620, 0.332,42760, 0.338,43800, 0.343,45310, 0.348,42580, 0.354,44490,
  0.360,45310, 0.363,47900, 0.368,51770, 0.458,69200, 0.470,54270, 0.475,63010, 0.492,48950, 0.480,47900, 0.499,52220, 0.495,45620,
  0.503,46220, 0.511,55050, 0.515,58370, 0.519,63150, 0.523,52450, 0.527,48680, 0.531,47770, 0.535,55870, 0.538,51540, 0.543,57590,
  0.551,59410, 0.554,57770, 0.558,61780, 0.570,50500, 0.574,50500,
];

// ---------- marker shapes ----------
function polyPath(n: number, inner: number | null): string {
  const pts: string[] = [];
  const count = inner === null ? n : n * 2;
  for (let k = 0; k < count; k++) {
    const ang = (-90 + (k * 360) / count) * (Math.PI / 180);
    const r = inner === null ? 10 : k % 2 === 0 ? 10 : 10 * inner;
    pts.push(`${(r * Math.cos(ang) + 10).toFixed(3)},${(r * Math.sin(ang) + 10).toFixed(3)}`);
  }
  return "path://M" + pts.join("L") + "Z";
}
const SQUARE = "path://M0,0L10,0L10,10L0,10Z";
const TRI_UP = "path://M5,0L10,10L0,10Z";
const TRI_DOWN = "path://M0,0L10,0L5,10Z";
const STAR = polyPath(5, 0.381966);
const PENTAGON = polyPath(5, null);
const symbols = ["circle", TRI_UP, TRI_DOWN, SQUARE, STAR, PENTAGON];
const symbolSizes = [9, 9, 9, 8.8, 8.8, 8.8];

const FONT = "DejaVu Sans";

function pairs(a: number[]): number[][] {
  const out: number[][] = [];
  for (let k = 0; k + 1 < a.length; k += 2) out.push([a[k], a[k + 1]]);
  return out;
}

const minusFmt = (v: number) => (v < 0 ? "\u2212" + Math.abs(v) : String(v));

export default function App() {
  const ref = useRef<HTMLDivElement>(null);

  useEffect(() => {
    if (!ref.current) return;
    const chart = echarts.init(ref.current, undefined, { renderer: "svg" });

    const diffSets = [uDiff, gDiff, rDiff, iDiff, zDiff, yDiff];
    const directSets = [uDirect, gDirect, rDirect, iDirect, zDirect, yDirect];

    const mkSeries = (sets: number[][], xi: number, yi: number) =>
      sets.map((arr, k) => ({
        type: "scatter",
        name: bands[k],
        xAxisIndex: xi,
        yAxisIndex: yi,
        data: pairs(arr),
        symbol: symbols[k],
        symbolSize: symbolSizes[k],
        symbolKeepAspect: true,
        silent: true,
        z: 2,
        itemStyle: { color: "rgba(0,0,0,0)", borderColor: bandColors[k], borderWidth: 1.3, opacity: 1 },
        emphasis: { disabled: true },
      }));

    const tickLine = { color: "#000", width: 1 };
    const labelStyle = { color: "#000", fontSize: 13.5, fontFamily: FONT };
    const noLine = { show: false, onZero: false };

    const option: any = {
      animation: false,
      textStyle: { fontFamily: FONT },
      grid: [
        { left: 96, right: 9, top: 30, height: 539, show: true, borderColor: "#000", borderWidth: 1, backgroundColor: "rgba(0,0,0,0)", containLabel: false, outerBoundsMode: "none" },
        { left: 96, right: 9, top: 569, height: 539, show: true, borderColor: "#000", borderWidth: 1, backgroundColor: "rgba(0,0,0,0)", containLabel: false, outerBoundsMode: "none" },
      ],
      xAxis: [
        { gridIndex: 0, type: "value", min: -0.05, max: 1.05, position: "bottom", axisLine: noLine, axisTick: { show: false }, axisLabel: { show: false }, splitLine: { show: false } },
        {
          gridIndex: 1, type: "value", min: -0.05, max: 1.05, position: "bottom",
          axisLine: noLine,
          axisTick: { show: true, length: 5, customValues: xMajor, lineStyle: tickLine },
          axisLabel: { show: true, customValues: xMajor, margin: 9, formatter: (v: number) => v.toFixed(1), ...labelStyle },
          splitLine: { show: false },
        },
        {
          gridIndex: 1, type: "value", min: -0.05, max: 1.05, position: "bottom",
          axisLine: noLine,
          axisTick: { show: true, length: 3, customValues: xMinor, lineStyle: tickLine },
          axisLabel: { show: false },
          splitLine: { show: false },
        },
      ],
      yAxis: [
        {
          gridIndex: 0, type: "value", min: -11850, max: 12650, position: "left",
          axisLine: noLine,
          axisTick: { show: true, length: 5, customValues: yDiffMajor, lineStyle: tickLine },
          axisLabel: { show: true, customValues: yDiffMajor, margin: 10, formatter: minusFmt, ...labelStyle },
          splitLine: { show: false },
        },
        {
          gridIndex: 0, type: "value", min: -11850, max: 12650, position: "left",
          axisLine: noLine,
          axisTick: { show: true, length: 3, customValues: yDiffMinor, lineStyle: tickLine },
          axisLabel: { show: false },
          splitLine: { show: false },
        },
        {
          gridIndex: 1, type: "value", min: 1150, max: 72350, position: "left",
          axisLine: noLine,
          axisTick: { show: true, length: 5, customValues: yDirMajor, lineStyle: tickLine },
          axisLabel: { show: true, customValues: yDirMajor, margin: 10, formatter: (v: number) => String(v), ...labelStyle },
          splitLine: { show: false },
        },
        {
          gridIndex: 1, type: "value", min: 1150, max: 72350, position: "left",
          axisLine: noLine,
          axisTick: { show: true, length: 3, customValues: yDirMinor, lineStyle: tickLine },
          axisLabel: { show: false },
          splitLine: { show: false },
        },
      ],
      legend: [
        {
          data: ["u", "g", "r"], orient: "vertical", left: 1208, top: 41, padding: 0,
          itemWidth: 36, itemHeight: 9, itemGap: 8, selectedMode: false,
          symbolKeepAspect: true,
          itemStyle: { borderWidth: 1.3 },
          textStyle: { fontSize: 13.5, lineHeight: 14, color: "#000", fontFamily: FONT },
        },
        {
          data: ["i", "z", "y"], orient: "vertical", left: 1285, top: 41, padding: 0,
          itemWidth: 36, itemHeight: 9, itemGap: 8, selectedMode: false,
          symbolKeepAspect: true,
          itemStyle: { borderWidth: 1.3 },
          textStyle: { fontSize: 13.5, lineHeight: 14, color: "#000", fontFamily: FONT },
        },
      ],
      graphic: [
        { type: "rect", z: 3, shape: { x: 1196, y: 37, width: 132, height: 66, r: 3 }, style: { fill: "rgba(255,255,255,0.8)", stroke: "#cccccc", lineWidth: 1 } },
        { type: "text", x: 716, y: 16, style: { text: "diaObjectId = 744858104922900888", font: `16.5px '${FONT}'`, fill: "#000", textAlign: "center", textVerticalAlign: "middle" } },
        { type: "text", x: 17, y: 300, rotation: Math.PI / 2, style: { text: "PSF difference image flux (nJy)", font: `13.5px '${FONT}'`, fill: "#000", textAlign: "center", textVerticalAlign: "middle" } },
        { type: "text", x: 28, y: 838, rotation: Math.PI / 2, style: { text: "PSF direct image flux (nJy)", font: `13.5px '${FONT}'`, fill: "#000", textAlign: "center", textVerticalAlign: "middle" } },
        { type: "text", x: 716, y: 1144, style: { text: "phase", font: `13.5px '${FONT}'`, fill: "#000", textAlign: "center", textVerticalAlign: "middle" } },
      ],
      series: [...mkSeries(diffSets, 0, 0), ...mkSeries(directSets, 1, 2)],
    };

    chart.setOption(option);
    return () => chart.dispose();
  }, []);

  return (
    <div
      ref={ref}
      style={{ position: "absolute", left: 0, top: 0, width: 1345, height: 1161, background: "#fff" }}
    />
  );
}
